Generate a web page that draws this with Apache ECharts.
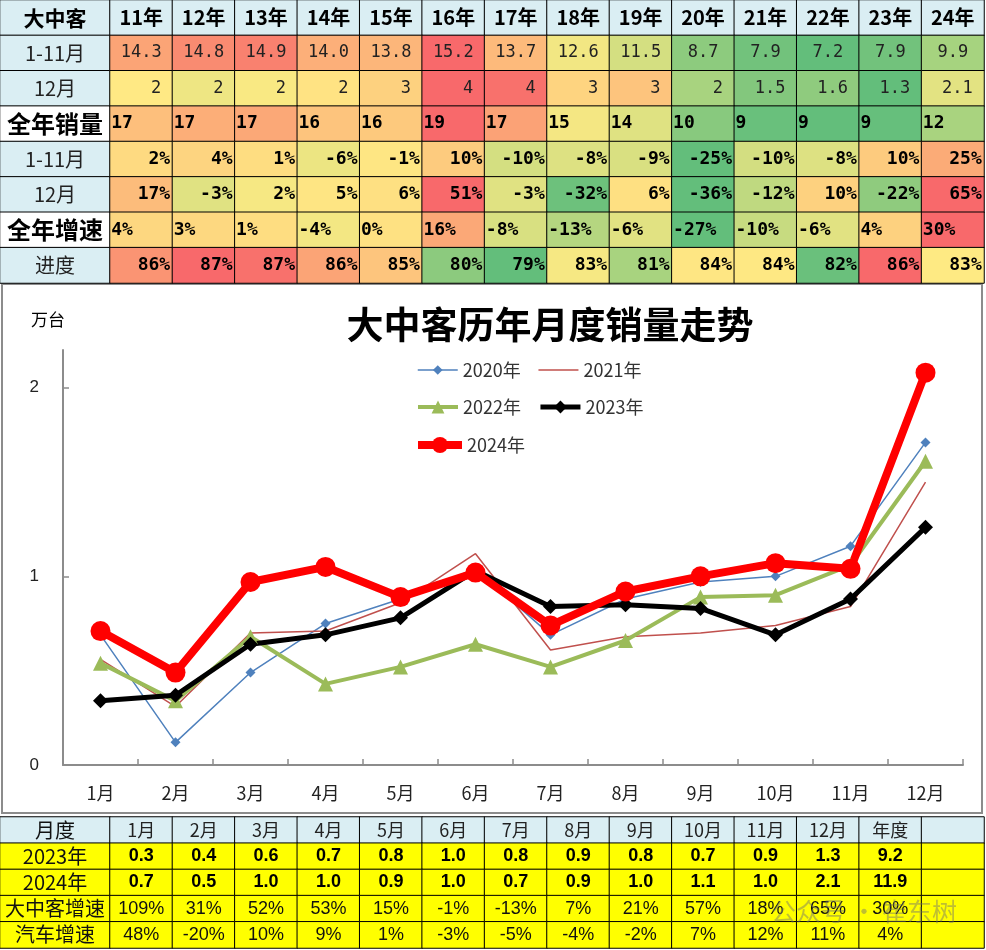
<!DOCTYPE html>
<html><head><meta charset="utf-8">
<script src="https://cdn.jsdelivr.net/npm/echarts@6/dist/echarts.min.js"></script>
<style>html,body{margin:0;padding:0;background:#fff}#c{width:986px;height:950px}</style>
</head><body><div id="c"></div>
<script>
// ---------- top table data ----------
const topCorner = '大中客';
const topYears = ['11年','12年','13年','14年','15年','16年','17年','18年','19年','20年','21年','22年','23年','24年'];
const topRowLabels = ['1-11月','12月','全年销量','1-11月','12月','全年增速','进度'];
const salesJanNov = [14.3,14.8,14.9,14.0,13.8,15.2,13.7,12.6,11.5,8.7,7.9,7.2,7.9,9.9];
const salesDec = [2,2,2,2,3,4,4,3,3,2,1.5,1.6,1.3,2.1];
const salesYear = [17,17,17,16,16,19,17,15,14,10,9,9,9,12];
const growthJanNov = [2,4,1,-6,-1,10,-10,-8,-9,-25,-10,-8,10,25];
const growthDec = [17,-3,2,5,6,51,-3,-32,6,-36,-12,10,-22,65];
const growthYear = [4,3,1,-4,0,16,-8,-13,-6,-27,-10,-6,4,30];
const progress = [86,87,87,86,85,80,79,83,81,84,84,82,86,83];

// ---------- chart data ----------
const months = ['1月','2月','3月','4月','5月','6月','7月','8月','9月','10月','11月','12月'];
const s2020 = [0.69,0.12,0.49,0.75,0.88,1.04,0.69,0.88,0.97,1.00,1.16,1.71];
const s2021 = [0.56,0.31,0.70,0.71,0.86,1.12,0.61,0.68,0.70,0.74,0.84,1.50];
const s2022 = [0.54,0.34,0.68,0.43,0.52,0.64,0.52,0.66,0.89,0.90,1.06,1.61];
const s2023 = [0.34,0.37,0.64,0.69,0.78,1.03,0.84,0.85,0.83,0.69,0.88,1.26];
const s2024 = [0.71,0.49,0.97,1.05,0.89,1.02,0.74,0.92,1.00,1.07,1.04,2.08];
const yTicks = [0,1,2];

// ---------- bottom table data ----------
const bottomHeader = ['1月','2月','3月','4月','5月','6月','7月','8月','9月','10月','11月','12月','年度',''];
const bottomRowLabels = ['月度','2023年','2024年','大中客增速','汽车增速'];
const table2023 = [0.3,0.4,0.6,0.7,0.8,1.0,0.8,0.9,0.8,0.7,0.9,1.3,9.2];
const table2024 = [0.7,0.5,1.0,1.0,0.9,1.0,0.7,0.9,1.0,1.1,1.0,2.1,11.9];
const busGrowth = [109,31,52,53,15,-1,-13,7,21,57,18,65,30];
const autoGrowth = [48,-20,10,9,1,-3,-5,-4,-2,7,12,11,4];

// ---------- styles (colours of the heat cells) ----------
const heatColors = [
 ['#FBA476','#F98B71','#F9816F','#FCAF79','#FCB67A','#F8696B','#FDBA7B','#F2E783','#D4DF81','#8DCB7E','#72C27C','#63BE7B','#72C27C','#A6D37F'],
 ['#FFE984','#EEE683','#F9E983','#FFE383','#FDD17F','#F8696B','#F8716C','#FED480','#FDC47D','#A8D37F','#83C77D','#8FCB7E','#63BE7B','#E3E382'],
 ['#FDBF7C','#FCAE78','#FBA877','#FDC47D','#FDC97D','#F8696B','#FBA276','#F4E783','#DFE282','#88C97E','#69C07C','#63BE7B','#66BF7C','#A9D37F'],
 ['#FEDA81','#FDD480','#FEDD81','#ECE582','#FEE683','#FDCB7E','#D4DF81','#DDE182','#D9E081','#63BE7B','#D3DE81','#DDE182','#FDCB7E','#FBAB77'],
 ['#FCBC7B','#E0E282','#F6E883','#FEE583','#FEE082','#F8696B','#E0E282','#6DC17C','#FEE082','#63BE7B','#BFD980','#FDD17F','#8FCB7E','#F8696B'],
 ['#FDD780','#FDD880','#FEDD81','#F3E783','#FEE182','#FBA877','#D8E081','#B5D680','#E1E282','#63BE7B','#C7DB80','#E1E282','#FDD17F','#F8696B'],
 ['#FA9473','#F8696B','#F8716C','#FBA476','#FDC57D','#8CCA7E','#63BE7B','#F6E883','#A8D37F','#FEE683','#FEE883','#6AC07C','#F8696B','#FEEA83']
];
const LBLUE = '#DAEEF3', YEL = '#FFFF00';
const CJK = "'Noto Sans CJK SC', sans-serif";
const MONO = "'DejaVu Sans Mono', monospace";
const SANS = "'Liberation Sans', Arial, sans-serif";

function cellSeries(xi, yi, rowIndex, texts, colors, label) {
  return {
    type: 'heatmap', xAxisIndex: xi, yAxisIndex: yi, silent: true,
    data: texts.map((t, i) => ({ value: [i, rowIndex, 1], itemStyle: { color: Array.isArray(colors) ? colors[i] : colors } })),
    itemStyle: { borderColor: '#000', borderWidth: 1 },
    label: Object.assign({ show: true, formatter: p => texts[p.dataIndex] }, label),
    emphasis: { disabled: true }
  };
}
const pct = v => v + '%';
const series = [];

// top table: label column
const topLabelTexts = [topCorner].concat(topRowLabels);
const topLabelBg = [LBLUE, LBLUE, LBLUE, '#FFFFFF', LBLUE, LBLUE, '#FFFFFF', LBLUE];
topLabelTexts.forEach((t, r) => {
  const big = (r === 3 || r === 6);
  const bold = big || r === 0;
  series.push(cellSeries(0, 0, r, [t], [topLabelBg[r]], {
    fontFamily: CJK, fontSize: big ? 24 : (r === 0 ? 21 : 20), fontWeight: bold ? 'bold' : 'normal', color: bold ? '#000' : '#222'
  }));
});
// top table: header + value rows
series.push(cellSeries(1, 1, 0, topYears, LBLUE, { fontFamily: CJK, fontSize: 20, fontWeight: 'bold', color: '#000' }));
const topRows = [
  [salesJanNov.map(v => v.toFixed(1)), { position: 'inside', fontFamily: MONO, fontSize: 17, color: '#222' }],
  [salesDec.map(v => String(v)), { position: 'insideRight', distance: 12, fontFamily: MONO, fontSize: 17, color: '#222' }],
  [salesYear.map(v => String(v)), { position: 'insideLeft', distance: 2, fontFamily: MONO, fontSize: 18, fontWeight: 'bold', color: '#000' }],
  [growthJanNov.map(pct), { position: 'insideRight', distance: 3, fontFamily: MONO, fontSize: 18, fontWeight: 'bold', color: '#000' }],
  [growthDec.map(pct), { position: 'insideRight', distance: 3, fontFamily: MONO, fontSize: 18, fontWeight: 'bold', color: '#000' }],
  [growthYear.map(pct), { position: 'insideLeft', distance: 2, fontFamily: MONO, fontSize: 18, fontWeight: 'bold', color: '#000' }],
  [progress.map(pct), { position: 'insideRight', distance: 3, fontFamily: MONO, fontSize: 18, fontWeight: 'bold', color: '#000' }]
];
topRows.forEach((row, k) => series.push(cellSeries(1, 1, k + 1, row[0], heatColors[k], row[1])));

// main chart lines
const lineDefs = [
  ['2020年', s2020, 'diamond', 10, 1.5, '#4F81BD'],
  ['2021年', s2021, 'none', 0, 1.5, '#C0504D'],
  ['2022年', s2022, 'triangle', 15, 4, '#9BBB59'],
  ['2023年', s2023, 'diamond', 15, 5, '#000000'],
  ['2024年', s2024, 'circle', 20, 8, '#FF0000']
];
lineDefs.forEach(d => series.push({
  name: d[0], type: 'line', xAxisIndex: 2, yAxisIndex: 2, data: d[1],
  symbol: d[2], symbolSize: d[3], showAllSymbol: true,
  lineStyle: { width: d[4], color: d[5] }, itemStyle: { color: d[5] }, emphasis: { disabled: true }
}));

// bottom table
bottomRowLabels.forEach((t, r) => {
  series.push(cellSeries(3, 3, r, [t], [r === 0 ? LBLUE : YEL], { fontFamily: CJK, fontSize: 20, color: '#111' }));
});
series.push(cellSeries(4, 4, 0, bottomHeader, LBLUE, { fontFamily: CJK, fontSize: 18, color: '#222' }));
const withBlank = a => a.concat(['']);
series.push(cellSeries(4, 4, 1, withBlank(table2023.map(v => v.toFixed(1))), YEL, { fontFamily: SANS, fontSize: 18, fontWeight: 'bold', color: '#000' }));
series.push(cellSeries(4, 4, 2, withBlank(table2024.map(v => v.toFixed(1))), YEL, { fontFamily: SANS, fontSize: 18, fontWeight: 'bold', color: '#000' }));
series.push(cellSeries(4, 4, 3, withBlank(busGrowth.map(pct)), YEL, { fontFamily: SANS, fontSize: 18, color: '#111' }));
series.push(cellSeries(4, 4, 4, withBlank(autoGrowth.map(pct)), YEL, { fontFamily: SANS, fontSize: 18, color: '#111' }));

const idx = n => Array.from({ length: n }, (_, i) => String(i));
const hiddenCat = (g, n, inv) => ({ gridIndex: g, type: 'category', data: idx(n), show: false, inverse: !!inv });
const axisGray = '#8c8c8c';

const legendText = { fontSize: 18, color: '#333', fontFamily: CJK };
const option = {
  animation: false,
  backgroundColor: '#fff',
  textStyle: { fontFamily: CJK },
  title: { text: '大中客历年月度销量走势', left: 545, top: 301, textAlign: 'center',
    textStyle: { fontSize: 37, fontWeight: 'bold', color: '#000', fontFamily: CJK } },
  legend: [
    { data: [{ name: '2020年', lineStyle: { width: 1.5 } }, { name: '2021年', lineStyle: { width: 1.5 }, itemStyle: { opacity: 0 } }],
      left: 412, top: 356, itemGap: 17, itemWidth: 40, itemHeight: 12, textStyle: legendText },
    { data: [{ name: '2022年', lineStyle: { width: 4 } }, { name: '2023年', lineStyle: { width: 5 } }],
      left: 411, top: 393, itemGap: 17, itemWidth: 40, itemHeight: 16, textStyle: legendText },
    { data: [{ name: '2024年', lineStyle: { width: 8 } }], left: 409, top: 431, itemWidth: 44, itemHeight: 20, textStyle: legendText }
  ],
  grid: [
    { left: 0, top: 0, width: 110, height: 283 },
    { left: 110, top: 0, width: 874, height: 283 },
    { left: 63, top: 350, width: 900, height: 415 },
    { left: 0, top: 817, width: 110, height: 131 },
    { left: 110, top: 817, width: 874, height: 131 }
  ],
  xAxis: [
    hiddenCat(0, 1), hiddenCat(1, 14),
    { gridIndex: 2, type: 'category', data: months, boundaryGap: true,
      axisLine: { lineStyle: { color: axisGray, width: 2 } },
      axisTick: { show: true, inside: true, length: 6, lineStyle: { color: axisGray, width: 1.5 } },
      axisLabel: { margin: 19, fontSize: 18, color: '#222', fontFamily: CJK } },
    hiddenCat(3, 1), hiddenCat(4, 14)
  ],
  yAxis: [
    hiddenCat(0, 8, true), hiddenCat(1, 8, true),
    { gridIndex: 2, type: 'value', min: 0, max: 2.2, interval: 1,
      axisLine: { show: true, lineStyle: { color: axisGray, width: 2 } },
      axisTick: { show: true, inside: true, length: 6, customValues: yTicks, lineStyle: { color: axisGray, width: 1.5 } },
      axisLabel: { customValues: yTicks, margin: 24, fontSize: 17, color: '#222', fontFamily: SANS },
      splitLine: { show: false } },
    hiddenCat(3, 5, true), hiddenCat(4, 5, true)
  ],
  graphic: [
    { type: 'rect', silent: true, shape: { x: 2, y: 284, width: 980, height: 529 }, style: { fill: 'none', stroke: axisGray, lineWidth: 2 } },
    { type: 'text', silent: true, x: 48, y: 320, style: { text: '万台', fontSize: 17, fontFamily: CJK, fill: '#000', align: 'center', verticalAlign: 'middle' } },
    { type: 'text', silent: true, z: 100, x: 864, y: 911, style: { text: '公众号 · 崔东树', fontSize: 25, fontFamily: CJK, fill: 'rgba(110,110,110,0.45)', align: 'center', verticalAlign: 'middle' } }
  ],
  series: series
};
const chart = echarts.init(document.getElementById('c'), null, { renderer: 'canvas' });
chart.setOption(option);
</script></body></html>
